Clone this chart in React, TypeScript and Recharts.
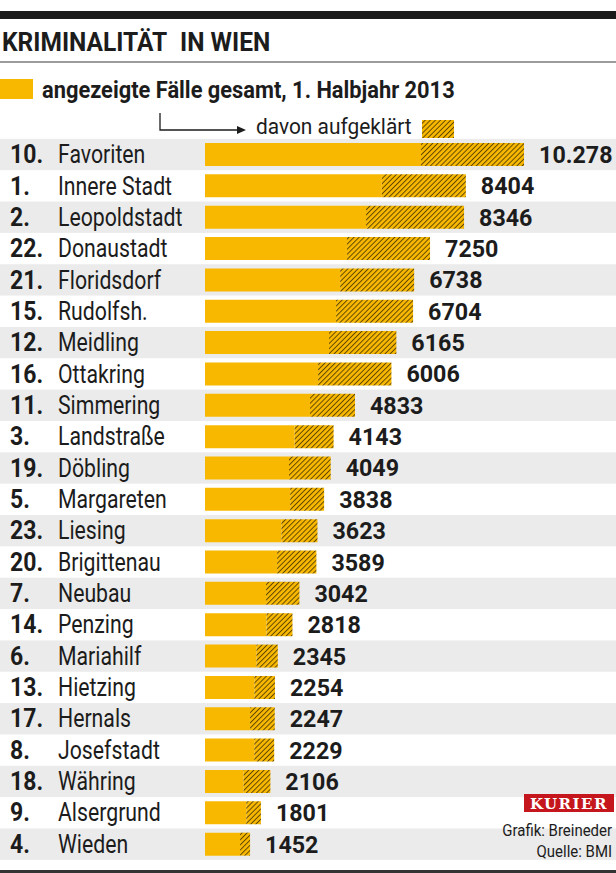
import React from "react";
import { BarChart, Bar, XAxis, YAxis, LabelList } from "recharts";

// ---- data ----
const districts = [
  "Favoriten", "Innere Stadt", "Leopoldstadt", "Donaustadt", "Floridsdorf", "Rudolfsh.",
  "Meidling", "Ottakring", "Simmering", "Landstraße", "Döbling", "Margareten", "Liesing",
  "Brigittenau", "Neubau", "Penzing", "Mariahilf", "Hietzing", "Hernals", "Josefstadt",
  "Währing", "Alsergrund", "Wieden",
];
const ranks = [10, 1, 2, 22, 21, 15, 12, 16, 11, 3, 19, 5, 23, 20, 7, 14, 6, 13, 17, 8, 18, 9, 4];
const totals = [
  10278, 8404, 8346, 7250, 6738, 6704, 6165, 6006, 4833, 4143, 4049, 3838, 3623, 3589,
  3042, 2818, 2345, 2254, 2247, 2229, 2106, 1801, 1452,
];
const solved = [
  3318, 2706, 3157, 2674, 2384, 2481, 2170, 2363, 1450, 1256, 1343, 1095, 1160, 1267,
  1074, 838, 687, 666, 795, 644, 860, 473, 322,
];
const xMax = 13241;

const title1 = "KRIMINALITÄT";
const title2 = "IN WIEN";
const legendTotal = "angezeigte Fälle gesamt, 1. Halbjahr 2013";
const legendSolved = "davon aufgeklärt";
const credit = "Grafik: Breineder";
const source = "Quelle: BMI";
const brand = "KURIER";

const data = districts.map((name, i) => ({
  name,
  rank: ranks[i],
  total: totals[i],
  solved: solved[i],
  open: totals[i] - solved[i],
}));

// ---- style ----
const W = 616;
const H = 873;
const M = { top: 139, right: 0, bottom: 13, left: 0 };
const AXIS_W = 205;
const PITCH = (H - M.top - M.bottom) / districts.length;
const YELLOW = "#f8b800";
const HATCH_INK = "#4a3700";
const BAND = "#ebebeb";
const INK = "#1c1c1c";
const FONT = "Roboto, 'Noto Sans', sans-serif";

const fmt = (v: number) => {
  const s = String(v);
  return v >= 10000 ? s.slice(0, s.length - 3) + "." + s.slice(-3) : s;
};

const T = ({ x, y, size, weight = 400, sx = 1, anchor = "start", fill = INK, family = FONT, ls = 0, children }: any) => (
  <text
    transform={`translate(${x} ${y}) scale(${sx} 1)`}
    fontSize={size}
    fontWeight={weight}
    fontFamily={family}
    fill={fill}
    textAnchor={anchor}
    letterSpacing={ls}
  >
    {children}
  </text>
);

const RowTick = (props: any) => {
  const { y, payload } = props;
  const i = districts.indexOf(payload.value);
  return (
    <g>
      <T x={10} y={y + 8.5} size={25} weight={700} sx={0.92}>{`${ranks[i]}.`}</T>
      <T x={58} y={y + 8.5} size={25} sx={0.85}>{payload.value}</T>
    </g>
  );
};

const BandBg = (props: any) => {
  const cy = props.y + props.height / 2;
  const idx = Math.round((cy - M.top - PITCH / 2) / PITCH);
  if (idx % 2 !== 0) return <g />;
  return <rect x={0} y={cy - PITCH / 2} width={W} height={PITCH} fill={BAND} />;
};

const ValueLabel = (props: any) => {
  const { x, y, width, height, value } = props;
  return (
    <T x={x + width + 15} y={y + height / 2 + 8.5} size={24} weight={700} sx={0.97}>
      {fmt(value)}
    </T>
  );
};

export default function App() {
  return (
    <div style={{ position: "relative", width: W, height: H, background: "#fff", overflow: "hidden", fontFamily: FONT }}>
      <style>{`body{margin:0}`}</style>
      <svg width={0} height={0} style={{ position: "absolute" }}>
        <defs>
          <pattern id="hatch" patternUnits="userSpaceOnUse" width={3.6} height={3.6} patternTransform="rotate(45)">
            <rect x={0} y={0} width={3.6} height={3.6} fill={YELLOW} />
            <line x1={0.5} y1={0} x2={0.5} y2={3.6} stroke={HATCH_INK} strokeWidth={0.85} />
          </pattern>
        </defs>
      </svg>
      <div style={{ position: "absolute", left: 0, top: 0 }}>
        <BarChart
          width={W}
          height={H}
          data={data}
          layout="vertical"
          margin={M}
          barSize={23}
        >
          <XAxis type="number" domain={[0, xMax]} hide />
          <YAxis
            type="category"
            dataKey="name"
            width={AXIS_W}
            axisLine={false}
            tickLine={false}
            interval={0}
            tick={<RowTick />}
          />
          <Bar dataKey="open" stackId="a" fill={YELLOW} isAnimationActive={false} background={<BandBg />} />
          <Bar dataKey="solved" stackId="a" fill="url(#hatch)" isAnimationActive={false}>
            <LabelList dataKey="total" content={<ValueLabel />} />
          </Bar>
        </BarChart>
      </div>
      <svg width={W} height={H} style={{ position: "absolute", left: 0, top: 0, pointerEvents: "none" }}>
        <rect x={0} y={11} width={W} height={8} fill="#1a1a1a" />
        <T x={2} y={51} size={25} weight={700} sx={0.98}>{title1}</T>
        <T x={180} y={51} size={25} weight={700} sx={0.98}>{title2}</T>
        <rect x={0} y={61} width={W} height={2} fill="#9c9c9c" />
        <rect x={0} y={79} width={33} height={20} fill={YELLOW} />
        <T x={42} y={98} size={24} weight={700} sx={0.91}>{legendTotal}</T>
        <path d="M160 113 V130 H240" fill="none" stroke={INK} strokeWidth={1.3} />
        <polygon points="237,126 246,130 237,134" fill={INK} />
        <T x={256} y={134} size={22} sx={0.95}>{legendSolved}</T>
        <rect x={422} y={120} width={32} height={18} fill="url(#hatch)" />
        <rect x={524} y={794} width={90} height={18} fill="#c4161c" />
        <T x={569} y={809} size={15} weight={700} anchor="middle" fill="#fff" family="'DejaVu Serif', 'Liberation Serif', serif" ls={1.5}>{brand}</T>
        <T x={612} y={836} size={17} sx={0.88} anchor="end">{credit}</T>
        <T x={612} y={857} size={17} sx={0.88} anchor="end">{source}</T>
        <rect x={0} y={870} width={W} height={3} fill="#333" />
      </svg>
    </div>
  );
}
